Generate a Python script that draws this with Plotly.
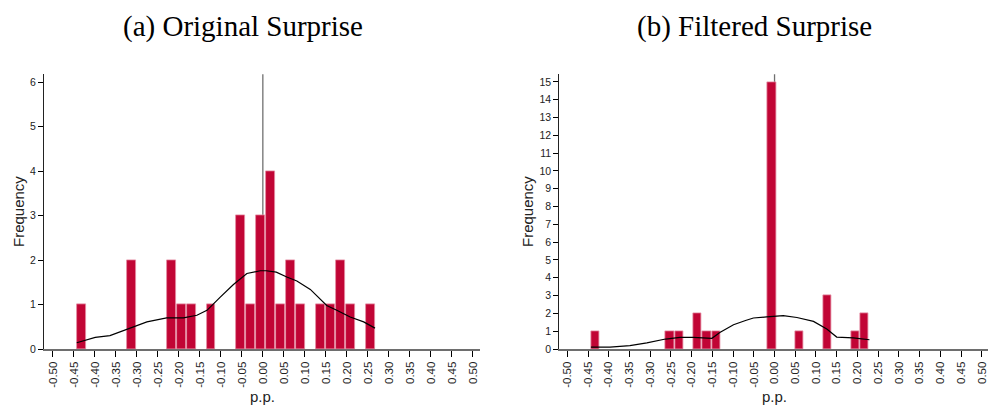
import plotly.graph_objects as go

# ---- histogram data: 30 equal-width bins per panel (counts per bin) ----
orig_bin_start = -0.443
orig_bin_width = 0.02367
orig_counts = [1, 0, 0, 0, 0, 2, 0, 0, 0, 2,
               1, 1, 0, 1, 0, 0, 3, 1, 3, 4,
               1, 2, 1, 0, 1, 1, 2, 1, 0, 1]

filt_bin_start = -0.443
filt_bin_width = 0.02237
filt_counts = [1, 0, 0, 0, 0, 0, 0, 0, 1, 1,
               0, 2, 1, 1, 0, 0, 0, 0, 0, 15,
               0, 0, 1, 0, 0, 3, 0, 0, 1, 2]

# ---- kernel density overlays (scaled to frequency) ----
orig_kde_x = [-0.443, -0.399, -0.364, -0.316, -0.276, -0.229, -0.189, -0.157,
              -0.133, -0.102, -0.070, -0.038, -0.006, 0.008, 0.032, 0.057,
              0.081, 0.113, 0.132, 0.152, 0.176, 0.208, 0.240, 0.267]
orig_kde_y = [0.14, 0.26, 0.30, 0.46, 0.61, 0.70, 0.70, 0.76,
              0.87, 1.16, 1.45, 1.70, 1.76, 1.76, 1.73, 1.62,
              1.53, 1.34, 1.16, 0.98, 0.87, 0.72, 0.61, 0.47]

filt_kde_x = [-0.443, -0.397, -0.349, -0.308, -0.263, -0.228, -0.196, -0.151,
              -0.132, -0.099, -0.070, -0.051, -0.019, 0.021, 0.054, 0.094,
              0.126, 0.150, 0.190, 0.229]
filt_kde_y = [0.11, 0.11, 0.19, 0.34, 0.56, 0.65, 0.65, 0.60,
              0.93, 1.36, 1.60, 1.74, 1.80, 1.87, 1.77, 1.55,
              1.12, 0.67, 0.63, 0.52]

# ---- axis ticks ----
x_ticks = [round(-0.5 + 0.05 * i, 2) for i in range(21)]
x_tick_labels = [f"{v:.2f}" for v in x_ticks]
orig_y_ticks = list(range(0, 7))
filt_y_ticks = list(range(0, 16))

panel_titles = ["(a) Original Surprise", "(b) Filtered Surprise"]
x_title = "p.p."
y_title = "Frequency"

BAR_COLOR = "#C10535"
BAR_EDGE = "#E58BA2"
W, H = 989, 405


def nonempty_bins(start, width, counts):
    """Centers and counts of the bins that hold at least one observation."""
    xs, ys = [], []
    for i, c in enumerate(counts):
        if c > 0:
            xs.append(start + width * (i + 0.5))
            ys.append(c)
    return xs, ys


fig = go.Figure()

ox, oy = nonempty_bins(orig_bin_start, orig_bin_width, orig_counts)
fig.add_trace(go.Bar(
    x=ox, y=oy, width=orig_bin_width * 0.9,
    marker=dict(color=BAR_COLOR, line=dict(color=BAR_EDGE, width=0.8)),
    xaxis="x", yaxis="y", showlegend=False, hoverinfo="x+y"))
fig.add_trace(go.Scatter(
    x=orig_kde_x, y=orig_kde_y, mode="lines", line=dict(color="black", width=1.2),
    xaxis="x", yaxis="y", showlegend=False))

fx, fy = nonempty_bins(filt_bin_start, filt_bin_width, filt_counts)
fig.add_trace(go.Bar(
    x=fx, y=fy, width=filt_bin_width * 0.9,
    marker=dict(color=BAR_COLOR, line=dict(color=BAR_EDGE, width=0.8)),
    xaxis="x2", yaxis="y2", showlegend=False, hoverinfo="x+y"))
fig.add_trace(go.Scatter(
    x=filt_kde_x, y=filt_kde_y, mode="lines", line=dict(color="black", width=1.2),
    xaxis="x2", yaxis="y2", showlegend=False))

x_tick_font = dict(family="Liberation Sans, Arial, sans-serif", size=11.5, color="#222")
y_tick_font = dict(family="Liberation Sans, Arial, sans-serif", size=10.5, color="#222")

xcommon = dict(
    tickmode="array", tickvals=x_ticks, ticktext=x_tick_labels, tickangle=-90,
    ticks="outside", ticklen=6, tickwidth=1, tickcolor="black",
    showline=True, linecolor="#6e6e6e", linewidth=2,
    showgrid=False, zeroline=False, tickfont=x_tick_font, fixedrange=True, automargin=False)
ycommon = dict(
    tickmode="array", ticks="outside", ticklen=5, tickwidth=1, tickcolor="black",
    showline=True, linecolor="#222", linewidth=1,
    showgrid=False, zeroline=False, tickfont=y_tick_font, fixedrange=True, automargin=False)

y_dom = [56 / H, 330.7 / H]

fig.update_layout(
    width=W, height=H, margin=dict(l=0, r=0, t=0, b=0, autoexpand=False),
    paper_bgcolor="white", plot_bgcolor="white", bargap=0,
    xaxis=dict(domain=[44 / W, 480 / W], range=[-0.521, 0.517], anchor="y", **xcommon),
    yaxis=dict(domain=y_dom, range=[0, 6.18], anchor="x",
               tickvals=orig_y_ticks, ticktext=[str(v) for v in orig_y_ticks], **ycommon),
    xaxis2=dict(domain=[559.3 / W, 988 / W], range=[-0.5193, 0.515], anchor="y2", **xcommon),
    yaxis2=dict(domain=y_dom, range=[0, 15.43], anchor="x2",
                tickvals=filt_y_ticks, ticktext=[str(v) for v in filt_y_ticks], **ycommon),
)

# reference line at zero, behind the bars
for xr, yr in (("x", "y"), ("x2", "y2")):
    fig.add_shape(type="line", xref=xr, yref=f"{yr} domain", x0=0, x1=0, y0=0, y1=1,
                  line=dict(color="#707070", width=1.3), layer="below")

title_font = dict(family="Liberation Serif, Times New Roman, serif", size=29, color="black")
label_font = dict(family="Liberation Sans, Arial, sans-serif", size=15, color="#222")

for cx, txt in ((243, panel_titles[0]), (754, panel_titles[1])):
    fig.add_annotation(x=cx / W, y=1 - 27 / H, xref="paper", yref="paper", text=txt,
                       showarrow=False, font=title_font, xanchor="center", yanchor="middle")

for cx in (262.5, 774):
    fig.add_annotation(x=cx / W, y=1 - 396 / H, xref="paper", yref="paper", text=x_title,
                       showarrow=False, font=label_font, xanchor="center", yanchor="middle")

for cx in (18, 527):
    fig.add_annotation(x=cx / W, y=1 - 212 / H, xref="paper", yref="paper", text=y_title,
                       showarrow=False, font=label_font, textangle=-90,
                       xanchor="center", yanchor="middle")

fig.write_html("out.html")
